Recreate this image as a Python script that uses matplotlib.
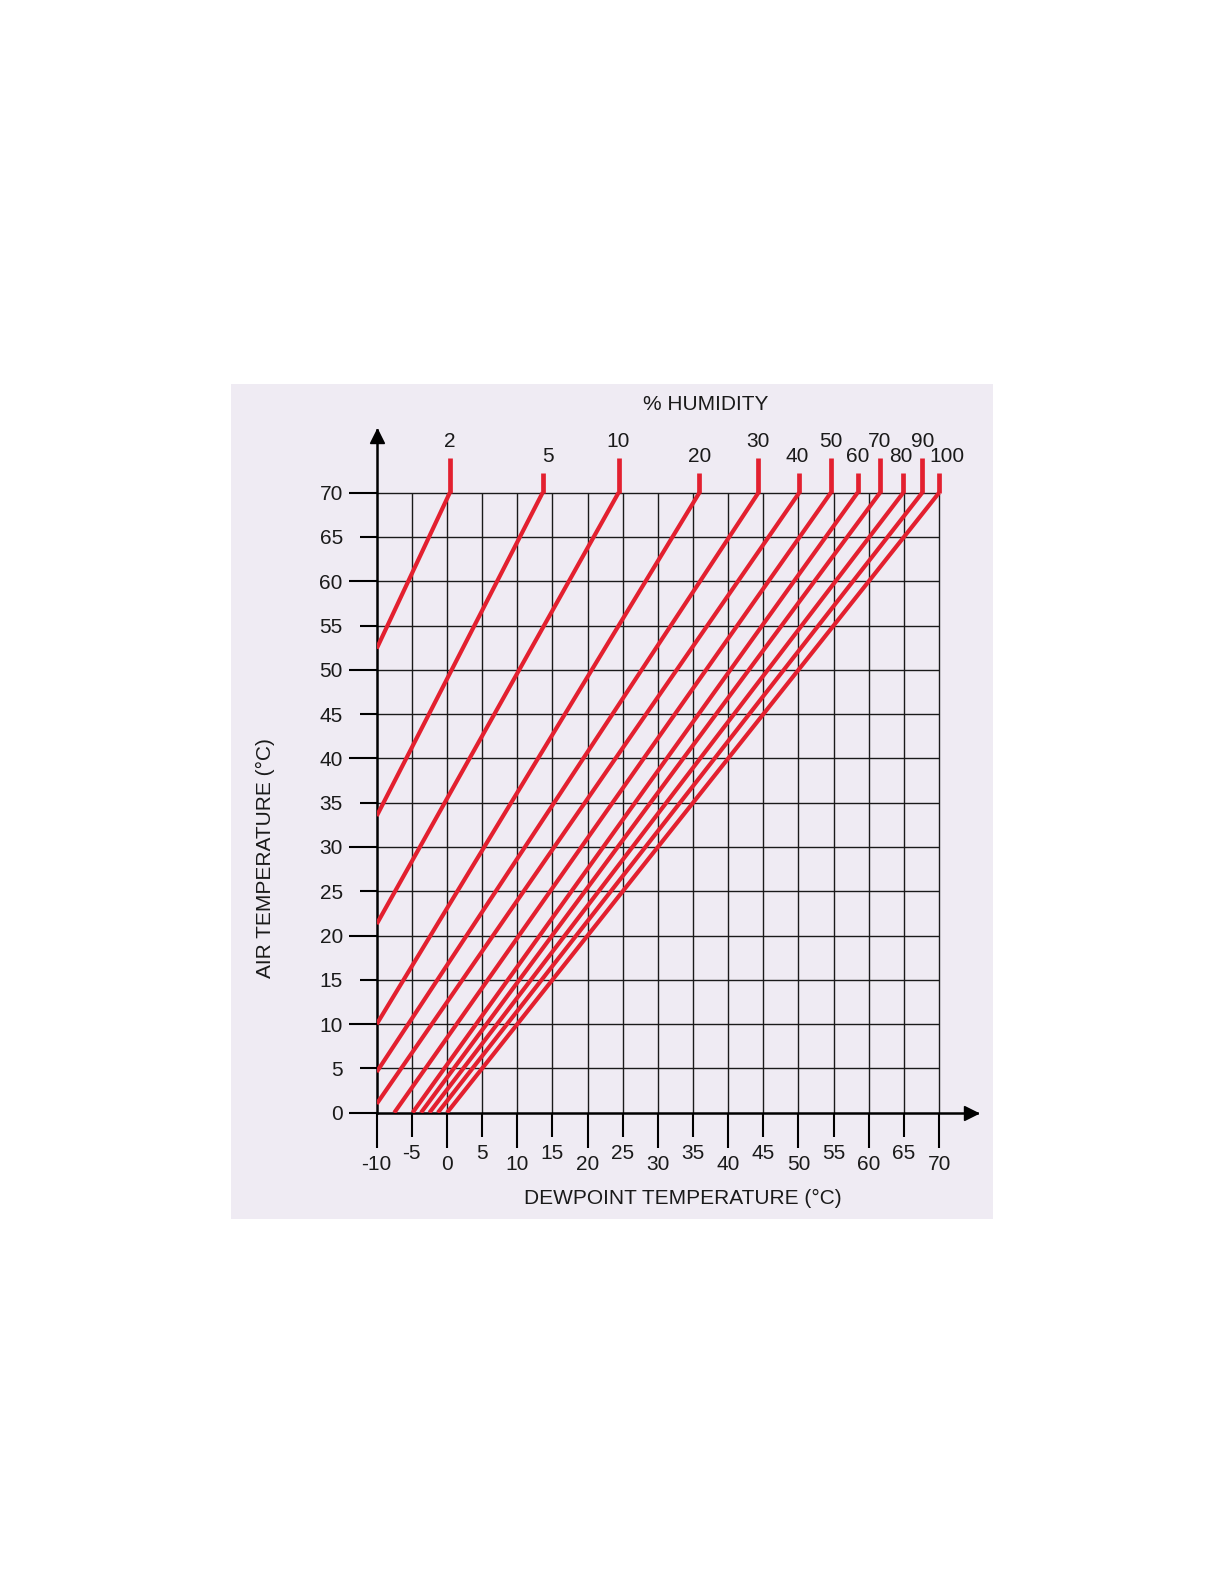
import matplotlib
matplotlib.use("Agg")
import matplotlib.pyplot as plt
from matplotlib.patches import Rectangle

plt.rcParams['font.family'] = ['Liberation Sans', 'DejaVu Sans']

# ---- data ----
rh_labels = [2, 5, 10, 20, 30, 40, 50, 60, 70, 80, 90, 100]
dew_start = [-10, -10, -10, -10, -10, -10, -7.5, -4.9, -3.7, -2.5, -1.3, 0]
air_start = [52.4, 33.5, 21.3, 10.0, 4.6, 1.0, 0, 0, 0, 0, 0, 0]
dew_end = [0.4, 13.6, 24.4, 35.9, 44.3, 50.1, 54.6, 58.4, 61.6, 64.9, 67.6, 70]
air_end = [70] * 12

x_major = list(range(-10, 71, 10))
x_minor = list(range(-5, 66, 10))
y_major = list(range(0, 71, 10))
y_minor = list(range(5, 66, 10))
grid_x = list(range(-10, 71, 5))
grid_y = list(range(0, 71, 5))

# label nudges (style only, in data units)
label_dx = [0, 0.8, 0, 0, 0, -0.3, 0, 0, 0, -0.4, 0, 1.05]

RED = '#e3202f'
INK = '#1a1a1a'

fig = plt.figure(figsize=(12.24, 15.84), dpi=100)
fig.patch.set_facecolor('white')
fig.add_artist(Rectangle((230.7 / 1224, 1 - 1218.5 / 1584), (992.7 - 230.7) / 1224,
                         (1218.5 - 383.5) / 1584, transform=fig.transFigure,
                         facecolor='#efebf3', edgecolor='none', zorder=0))

ax = fig.add_axes([376.7 / 1224, (1584 - 1112.7) / 1584, 600.0 / 1224, 682.9 / 1584])
ax.set_facecolor('none')
ax.set_xlim(-10, 75.35)
ax.set_ylim(0, 77.1)
for s in ['top', 'right']:
    ax.spines[s].set_visible(False)
for s in ['left', 'bottom']:
    ax.spines[s].set_linewidth(1.8)
    ax.spines[s].set_color('black')

# grid
ax.hlines(grid_y[1:], grid_x[0], grid_x[-1], colors=INK, linewidth=1.0, zorder=1)
ax.vlines(grid_x[1:], grid_y[0], grid_y[-1], colors=INK, linewidth=1.0, zorder=1)

# arrows
ax.plot([-10], [76.45], marker='^', markersize=10, color='black', clip_on=False, zorder=5)
ax.plot([74.5], [0], marker='>', markersize=10, color='black', clip_on=False, zorder=5)

# humidity lines
for i, rh in enumerate(rh_labels):
    ax.plot([dew_start[i], dew_end[i]], [air_start[i], air_end[i]], color=RED,
            linewidth=3.0, solid_capstyle='butt', zorder=3)
    tall = (i % 2 == 0)
    top = air_end[i] + (3.9 if tall else 2.2)
    ax.plot([dew_end[i], dew_end[i]], [air_end[i], top], color=RED,
            linewidth=3.4, solid_capstyle='butt', zorder=3)
    ax.text(dew_end[i] + label_dx[i], top + 1.9, str(rh), ha='center', va='center',
            fontsize=15, color=INK)

# ticks
ax.set_xticks(x_major)
ax.set_xticklabels([str(v) for v in x_major])
ax.set_xticks(x_minor, minor=True)
ax.set_xticklabels([str(v) for v in x_minor], minor=True)
ax.set_yticks(y_major)
ax.set_yticklabels([str(v) for v in y_major])
ax.set_yticks(y_minor, minor=True)
ax.set_yticklabels([str(v) for v in y_minor], minor=True)

ax.tick_params(axis='x', which='major', length=25.4, width=1.5, pad=5.0,
               labelsize=15, labelcolor=INK, direction='out')
ax.tick_params(axis='x', which='minor', length=17.3, width=1.5, pad=5.0,
               labelsize=15, labelcolor=INK, direction='out')
ax.tick_params(axis='y', which='major', length=20.4, width=1.5, pad=4.0,
               labelsize=15, labelcolor=INK, direction='out')
ax.tick_params(axis='y', which='minor', length=12.0, width=1.5, pad=12.4,
               labelsize=15, labelcolor=INK, direction='out')

# titles
fig.text(705.8 / 1224, 1 - 405 / 1584, '% HUMIDITY', ha='center', va='center',
         fontsize=15, color=INK)
fig.text(682.5 / 1224, 1 - 1198 / 1584, 'DEWPOINT TEMPERATURE (°C)', ha='center',
         va='center', fontsize=15, color=INK)
fig.text(265 / 1224, 1 - 858 / 1584, 'AIR TEMPERATURE (°C)', ha='center',
         va='center', rotation=90, fontsize=15, color=INK)

fig.savefig('out.png', dpi=100)
